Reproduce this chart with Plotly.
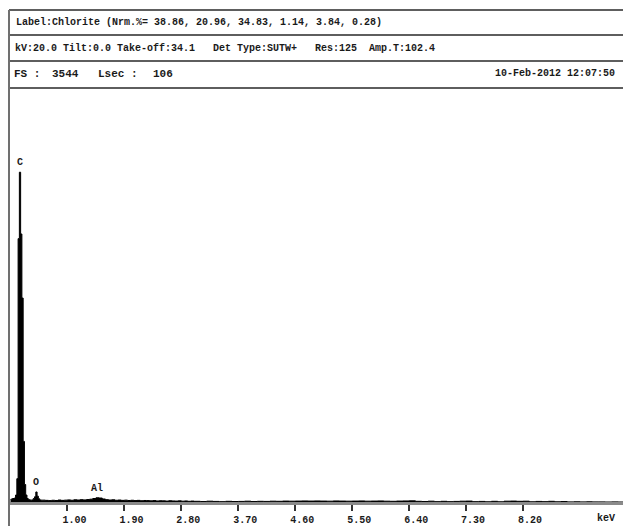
import plotly.graph_objects as go

# ---- spectrum data (counts per channel, channel start energy in keV) ----
energy_low = [0.10, 0.12, 0.14, 0.16, 0.18, 0.20, 0.22, 0.24, 0.26, 0.28,
              0.30, 0.32, 0.34, 0.36, 0.38, 0.40, 0.42, 0.44, 0.46, 0.48,
              0.50, 0.52, 0.54, 0.56, 0.58]
counts_low = [22, 28, 30, 34, 60, 200, 2260, 2830, 2300, 1750,
              520, 150, 60, 30, 22, 18, 16, 18, 30, 45,
              86, 50, 28, 18, 16]

energy_mid = [0.60, 0.65, 0.70, 0.75, 0.80, 0.85, 0.90, 0.95, 1.00, 1.05,
              1.10, 1.15, 1.20, 1.25, 1.30, 1.35, 1.40, 1.45, 1.50, 1.55,
              1.60, 1.65, 1.70, 1.75, 1.80, 1.85, 1.90, 1.95, 2.00, 2.05,
              2.10, 2.15, 2.20, 2.25, 2.30, 2.35, 2.40, 2.45, 2.50, 2.55,
              2.60, 2.65, 2.70, 2.75, 2.80, 2.85, 2.90, 2.95]
counts_mid = [16, 14, 12, 15, 13, 17, 14, 16, 18, 15,
              19, 17, 20, 18, 21, 24, 30, 36, 34, 26,
              20, 17, 19, 15, 17, 14, 16, 13, 15, 12,
              14, 11, 13, 12, 10, 12, 9, 11, 10, 8,
              11, 9, 8, 10, 7, 9, 6, 8]

energy_high = [3.0, 3.1, 3.2, 3.3, 3.4, 3.5, 3.6, 3.7, 3.8, 3.9,
               4.0, 4.1, 4.2, 4.3, 4.4, 4.5, 4.6, 4.7, 4.8, 4.9,
               5.0, 5.1, 5.2, 5.3, 5.4, 5.5, 5.6, 5.7, 5.8, 5.9,
               6.0, 6.1, 6.2, 6.3, 6.4, 6.5, 6.6, 6.7, 6.8, 6.9,
               7.0, 7.1, 7.2, 7.3, 7.4, 7.5, 7.6, 7.7, 7.8, 7.9,
               8.0, 8.1, 8.2, 8.3, 8.4, 8.5, 8.6, 8.7, 8.8, 8.9,
               9.0, 9.1, 9.2, 9.3, 9.4, 9.5, 9.6, 9.7, 9.8]
counts_high = [6, 4, 7, 5, 3, 6, 4, 5, 7, 4,
               6, 5, 7, 6, 8, 7, 8, 9, 8, 9,
               8, 7, 9, 8, 7, 8, 9, 7, 8, 9,
               7, 6, 8, 9, 10, 6, 4, 7, 3, 6,
               3, 5, 7, 8, 3, 5, 2, 6, 2, 7,
               8, 6, 7, 2, 5, 3, 6, 2, 4, 1,
               2, 1, 2, 1, 1, 0, 1, 0, 0]

tick_values = [1.00, 1.90, 2.80, 3.70, 4.60, 5.50, 6.40, 7.30, 8.20]
tick_labels = ["1.00", "1.90", "2.80", "3.70", "4.60", "5.50", "6.40", "7.30", "8.20"]

# element markers: symbol, energy (keV), counts at label
peak_names = ["C", "O", "Al"]
peak_energy = [0.245, 0.505, 1.47]
peak_counts = [2830, 86, 36]

header_1 = "Label:Chlorite (Nrm.%= 38.86, 20.96, 34.83, 1.14, 3.84, 0.28)"
header_2 = "kV:20.0 Tilt:0.0 Take-off:34.1   Det Type:SUTW+   Res:125  Amp.T:102.4"
header_3 = ["FS :", "3544", "Lsec :", "106"]
header_3_x = [12, 50, 96, 151]
date_text = "10-Feb-2012 12:07:50"
full_scale = 3544

W, H = 623, 526
MONO = "Liberation Mono, Courier New, monospace"
INK = "#1a1a1a"


def px(x):
    return x / W


def py(y):
    return 1 - y / H


def mono(size):
    return dict(family=MONO, size=size, color=INK, weight="bold")


energy = energy_low + energy_mid + energy_high
counts = counts_low + counts_mid + counts_high

fig = go.Figure()
fig.add_trace(go.Scatter(
    x=energy, y=counts, mode="lines", line_shape="hv",
    line=dict(color="black", width=1), fill="tozeroy", fillcolor="black",
    hoverinfo="skip",
))

# peak labels
for name, e, c in zip(peak_names, peak_energy, peak_counts):
    fig.add_annotation(x=e, y=c, xref="x", yref="y", text=name, showarrow=False,
                       yanchor="bottom", yshift=2, font=mono(10))

# header rows
fig.add_annotation(x=px(14), y=py(22), xref="paper", yref="paper", text=header_1,
                   showarrow=False, xanchor="left", yanchor="middle", font=mono(10))
fig.add_annotation(x=px(13), y=py(48), xref="paper", yref="paper", text=header_2,
                   showarrow=False, xanchor="left", yanchor="middle", font=mono(10))
for t, xx in zip(header_3, header_3_x):
    fig.add_annotation(x=px(xx), y=py(74), xref="paper", yref="paper", text=t,
                       showarrow=False, xanchor="left", yanchor="middle", font=mono(11))
fig.add_annotation(x=px(617), y=py(74), xref="paper", yref="paper", text=date_text,
                   showarrow=False, xanchor="right", yanchor="middle", font=mono(10))
fig.add_annotation(x=px(606), y=py(518), xref="paper", yref="paper", text="keV",
                   showarrow=False, xanchor="center", yanchor="middle", font=mono(10))

# frame lines
for yy in [10, 35, 61, 88]:
    fig.add_shape(type="line", xref="paper", yref="paper",
                  x0=px(9), x1=px(623), y0=py(yy), y1=py(yy),
                  line=dict(color="#5e5e5e", width=2))
fig.add_shape(type="line", xref="paper", yref="paper",
              x0=px(9), x1=px(9), y0=py(10), y1=py(526),
              line=dict(color="#707070", width=2))

fig.update_layout(
    width=W, height=H, margin=dict(l=0, r=0, t=0, b=0),
    paper_bgcolor="white", plot_bgcolor="white", showlegend=False,
    xaxis=dict(domain=[px(10), 1], range=[0.092, 9.78], showgrid=False, zeroline=False,
               showline=True, linecolor="#8a8a8a", linewidth=3, layer="below traces",
               ticks="outside", ticklen=6, tickwidth=1.5, tickcolor="#333",
               tickvals=tick_values, ticktext=tick_labels, ticklabelshift=7,
               tickfont=mono(10)),
    yaxis=dict(domain=[py(502), py(89)], range=[0, full_scale], visible=False),
)

fig.write_html("out.html")
